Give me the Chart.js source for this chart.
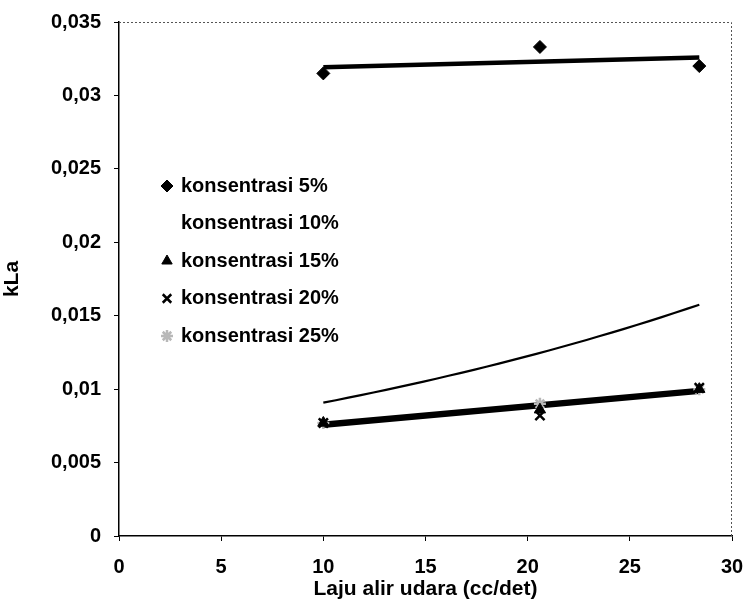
<!DOCTYPE html>
<html>
<head>
<meta charset="utf-8">
<title>kLa vs laju alir udara</title>
<script src="https://cdn.jsdelivr.net/npm/chart.js@4.4.1/dist/chart.umd.min.js"></script>
<style>
  html, body { margin: 0; padding: 0; background: #fff; }
  #wrap { width: 746px; height: 602px; }
</style>
</head>
<body>
<div id="wrap"><canvas id="chart" width="746" height="602"></canvas></div>
<script>
// air flow rate (cc/det)
const flowRate = [10, 20.6, 28.4];

// kLa per concentration
const kla5 = [0.0315, 0.0333, 0.0320];
const kla10 = [0.0091, 0.0124, 0.0158];
const kla15 = [0.0077, 0.0086, 0.0100];
const kla20 = [0.0077, 0.0082, 0.0101];
const kla25 = [0.0077, 0.0090, 0.0100];

const seriesLabels = ['konsentrasi 5%', 'konsentrasi 10%', 'konsentrasi 15%', 'konsentrasi 20%', 'konsentrasi 25%'];

const xTicks = [0, 5, 10, 15, 20, 25, 30];
const yTicks = [0, 0.005, 0.01, 0.015, 0.02, 0.025, 0.03, 0.035];
const yTickLabels = ['0', '0,005', '0,01', '0,015', '0,02', '0,025', '0,03', '0,035'];

const FONT = '"Liberation Sans", Arial, sans-serif';

function toPoints(xs, ys) {
    return xs.map((x, i) => ({ x: x, y: ys[i] }));
}

// least squares line
function linearFit(xs, ys) {
    const n = xs.length;
    const mx = xs.reduce((s, v) => s + v, 0) / n;
    const my = ys.reduce((s, v) => s + v, 0) / n;
    let sxy = 0, sxx = 0;
    xs.forEach((x, i) => { sxy += (x - mx) * (ys[i] - my); sxx += (x - mx) * (x - mx); });
    const b = sxy / sxx;
    return x => my + b * (x - mx);
}

// y = a * e^(b x), fitted on ln y
function expFit(xs, ys) {
    const f = linearFit(xs, ys.map(v => Math.log(v)));
    return x => Math.exp(f(x));
}

function trendPoints(xs, fn, steps) {
    const lo = Math.min(...xs), hi = Math.max(...xs);
    const pts = [];
    for (let i = 0; i <= steps; i++) {
        const x = lo + (hi - lo) * i / steps;
        pts.push({ x: x, y: fn(x) });
    }
    return pts;
}

const series = [
    { label: seriesLabels[0], data: kla5, pointStyle: 'rectRot', radius: 6.5, color: '#000', fit: linearFit, lineWidth: 4.5 },
    { label: seriesLabels[1], data: kla10, pointStyle: false, radius: 0, color: '#000', fit: expFit, lineWidth: 2.2 },
    { label: seriesLabels[2], data: kla15, pointStyle: 'triangle', radius: 6.5, color: '#000', fit: linearFit, lineWidth: 3 },
    { label: seriesLabels[3], data: kla20, pointStyle: 'crossRot', radius: 6.5, color: '#000', fit: linearFit, lineWidth: 3 },
    { label: seriesLabels[4], data: kla25, pointStyle: 'star', radius: 6, color: '#b8b8b8', fit: linearFit, lineWidth: 3 }
];

const datasets = [];
series.forEach(s => {
    datasets.push({
        label: s.label,
        isSeries: true,
        data: toPoints(flowRate, s.data),
        pointStyle: s.pointStyle,
        pointRadius: s.radius,
        pointHoverRadius: s.radius,
        pointBackgroundColor: s.color,
        pointBorderColor: s.color,
        pointBorderWidth: s.pointStyle === 'crossRot' || s.pointStyle === 'star' ? 2.5 : 1,
        showLine: false,
        order: 0
    });
    datasets.push({
        label: s.label + ' trend',
        data: trendPoints(flowRate, s.fit(flowRate, s.data), s.fit === expFit ? 30 : 1),
        showLine: true,
        borderColor: '#000',
        borderWidth: s.lineWidth,
        pointRadius: 0,
        tension: 0,
        order: 1
    });
});

// dotted frame along the top and right of the plot
const framePlugin = {
    id: 'frame',
    afterDraw(chart) {
        const { ctx, chartArea: a } = chart;
        ctx.save();
        ctx.strokeStyle = '#555';
        ctx.lineWidth = 1;
        ctx.setLineDash([2, 2]);
        ctx.beginPath();
        ctx.moveTo(a.left, a.top + 0.5);
        ctx.lineTo(a.right - 0.5, a.top + 0.5);
        ctx.lineTo(a.right - 0.5, a.bottom);
        ctx.stroke();
        ctx.restore();
    }
};

// legend drawn inside the plot area
const insideLegend = {
    id: 'insideLegend',
    afterDraw(chart, args, opts) {
        const ctx = chart.ctx;
        ctx.save();
        ctx.font = opts.font;
        ctx.textBaseline = 'middle';
        ctx.fillStyle = '#000';
        let row = 0;
        chart.data.datasets.forEach(ds => {
            if (!ds.isSeries) return;
            const y = opts.top + row * opts.step;
            if (ds.pointStyle) {
                ctx.fillStyle = ds.pointBackgroundColor;
                ctx.strokeStyle = ds.pointBorderColor;
                ctx.lineWidth = ds.pointBorderWidth;
                Chart.helpers.drawPoint(ctx, { pointStyle: ds.pointStyle, radius: opts.markerRadius, rotation: 0, borderWidth: ds.pointBorderWidth }, opts.markerX, y);
            }
            ctx.fillStyle = '#000';
            ctx.fillText(ds.label, opts.textX, y);
            row++;
        });
        ctx.restore();
    }
};

new Chart(document.getElementById('chart'), {
    type: 'scatter',
    data: { datasets: datasets },
    plugins: [framePlugin, insideLegend],
    options: {
        responsive: false,
        animation: false,
        layout: { padding: { top: 22, right: 14, left: 0, bottom: 0 } },
        plugins: {
            legend: { display: false },
            tooltip: { enabled: false },
            insideLegend: { top: 186, step: 37.5, markerX: 167, textX: 181, markerRadius: 6, font: 'bold 20px ' + FONT }
        },
        scales: {
            x: {
                type: 'linear',
                min: 0,
                max: 30,
                afterFit(scale) {
                    scale.height = 66;
                    scale.paddingLeft = 0;
                    scale.paddingRight = 0;
                },
                afterBuildTicks(scale) { scale.ticks = xTicks.map(v => ({ value: v })); },
                border: { display: true, color: '#000', width: 1.5 },
                grid: { drawOnChartArea: false, drawTicks: true, tickLength: 5, color: '#000' },
                ticks: { color: '#000', padding: 14, font: { family: FONT, size: 20, weight: 'bold' }, maxRotation: 0 },
                title: { display: true, text: 'Laju alir udara (cc/det)', color: '#000', padding: { top: 0, bottom: 0 }, font: { family: FONT, size: 21, weight: 'bold' } }
            },
            y: {
                type: 'linear',
                min: 0,
                max: 0.035,
                afterFit(scale) {
                    scale.width = 119;
                    scale.paddingTop = 0;
                    scale.paddingBottom = 0;
                },
                afterBuildTicks(scale) { scale.ticks = yTicks.map(v => ({ value: v })); },
                border: { display: true, color: '#000', width: 1.5 },
                grid: { drawOnChartArea: false, drawTicks: true, tickLength: 5, color: '#000' },
                ticks: {
                    color: '#000',
                    padding: 13,
                    font: { family: FONT, size: 20, weight: 'bold' },
                    callback: (v) => yTickLabels[yTicks.findIndex(t => Math.abs(t - v) < 1e-9)]
                },
                title: { display: true, text: 'kLa', color: '#000', padding: { top: 0, bottom: 3 }, font: { family: FONT, size: 21, weight: 'bold' } }
            }
        }
    }
});
</script>
</body>
</html>
